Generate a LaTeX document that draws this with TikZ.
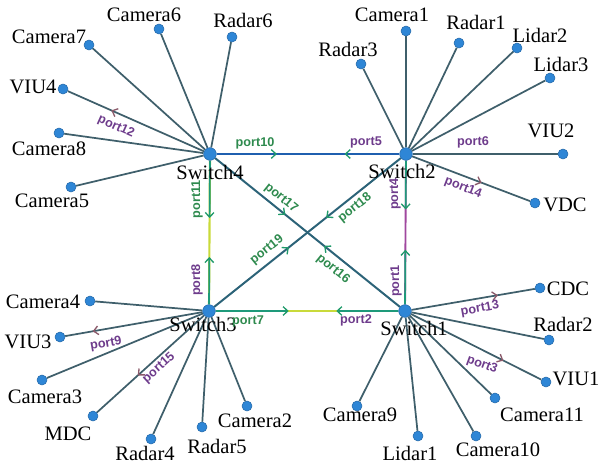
\documentclass[tikz,border=0pt]{standalone}
\usepackage{fontspec}
\setmainfont{Liberation Serif}
\newfontfamily\portfont{Liberation Sans}
\usetikzlibrary{arrows.meta,calc,decorations.markings}
\pgfdeclarelayer{bg}
\pgfsetlayers{bg,main}

\definecolor{dotblue}{HTML}{2E86D6}
\definecolor{dotedge}{HTML}{2468A8}
\definecolor{leafline}{HTML}{3F5F6B}
\definecolor{trunkblue}{HTML}{1F5FAF}
\definecolor{linklime}{HTML}{C9DA3A}
\definecolor{linkteal}{HTML}{1E9A7A}
\definecolor{linkmag}{HTML}{A0479E}
\definecolor{diagline}{HTML}{2C6378}
\definecolor{portpurple}{HTML}{6E3C8C}
\definecolor{portgreen}{HTML}{2E8A4E}
\definecolor{tipgreen}{HTML}{1F9A6A}
\definecolor{tipbrown}{HTML}{8B5A6A}

\tikzset{
  dev/.style={circle,fill=dotblue,draw=dotedge,line width=0.4pt,inner sep=0pt,minimum size=7.5pt},
  sw/.style={dev,minimum size=9.5pt},
  lbl/.style={font=\fontsize{15.4}{16}\selectfont,inner sep=0pt},
  plbl/.style={font=\portfont\bfseries\fontsize{9.5}{10}\selectfont,inner sep=0pt},
  pg/.style={plbl,text=portgreen},
  pp/.style={plbl,text=portpurple},
  leaf/.style={draw=leafline,line width=1.3pt},
  ovl/.style={draw=linkteal,line width=1.3pt},
  fwd/.style args={#1/#2}{postaction={decorate,decoration={markings,
      mark=at position #1 with {\arrow[#2,line width=1pt]{Straight Barb[length=3.5pt,width=6.5pt]}}}}},
  bwd/.style args={#1/#2}{postaction={decorate,decoration={markings,
      mark=at position #1 with {\arrowreversed[#2,line width=1pt]{Straight Barb[length=3.5pt,width=6.5pt]}}}}}
}

\begin{document}
\begin{tikzpicture}[x=0.75pt,y=-0.75pt]
\useasboundingbox (0,0) rectangle (600,468);

% switches
\node[sw] (S4) at (210,154) {};
\node[sw] (S2) at (406,154) {};
\node[sw] (S3) at (209,311) {};
\node[sw] (S1) at (405,311) {};
\node[lbl] (tS4) at (210,172) {Switch4};
\node[lbl] (tS2) at (402,171) {Switch2};
\node[lbl] (tS3) at (203,324) {Switch3};
\node[lbl] (tS1) at (414,328) {Switch1};

% devices on Switch4
\node[dev] (cam6) at (159,29) {};
\node[dev] (rad6) at (232,37) {};
\node[dev] (cam7) at (89,45) {};
\node[dev] (viu4) at (63,89) {};
\node[dev] (cam8) at (59,133) {};
\node[dev] (cam5) at (71,187) {};
% devices on Switch2
\node[dev] (cam1) at (406,31) {};
\node[dev] (rad1) at (459,43) {};
\node[dev] (lid2) at (517,48) {};
\node[dev] (lid3) at (550,78) {};
\node[dev] (rad3) at (361,64) {};
\node[dev] (viu2) at (563,154) {};
\node[dev] (vdc) at (535,203) {};
% devices on Switch3
\node[dev] (cam4) at (90,301) {};
\node[dev] (viu3) at (60,337) {};
\node[dev] (cam3) at (42,380) {};
\node[dev] (mdc) at (93,416) {};
\node[dev] (rad4) at (151,439) {};
\node[dev] (rad5) at (202,427) {};
\node[dev] (cam2) at (247,406) {};
% devices on Switch1
\node[dev] (cdc) at (540,288) {};
\node[dev] (rad2) at (549,340) {};
\node[dev] (viu1) at (546,382) {};
\node[dev] (cam11) at (495,398) {};
\node[dev] (cam10) at (476,436) {};
\node[dev] (lid1) at (418,436) {};
\node[dev] (cam9) at (357,406) {};

% device names
\node[lbl] (tcam6) at (144,15) {Camera6};
\node[lbl] (trad6) at (243,20) {Radar6};
\node[lbl] (tcam7) at (49,37) {Camera7};
\node[lbl] (tviu4) at (33,87) {VIU4};
\node[lbl] (tcam8) at (49,149) {Camera8};
\node[lbl] (tcam5) at (52,201) {Camera5};
\node[lbl] (tcam1) at (392,15) {Camera1};
\node[lbl] (trad1) at (476,22) {Radar1};
\node[lbl] (tlid2) at (540,35) {Lidar2};
\node[lbl] (tlid3) at (561,64) {Lidar3};
\node[lbl] (trad3) at (348,49) {Radar3};
\node[lbl] (tviu2) at (551,131) {VIU2};
\node[lbl] (tvdc) at (565,205) {VDC};
\node[lbl] (tcam4) at (43,302) {Camera4};
\node[lbl] (tviu3) at (28,342) {VIU3};
\node[lbl] (tcam3) at (45,397) {Camera3};
\node[lbl] (tmdc) at (68,434) {MDC};
\node[lbl] (trad4) at (145,453) {Radar4};
\node[lbl] (trad5) at (217,446) {Radar5};
\node[lbl] (tcam2) at (255,421) {Camera2};
\node[lbl] (tcdc) at (568,289) {CDC};
\node[lbl] (trad2) at (563,324) {Radar2};
\node[lbl] (tviu1) at (576,379) {VIU1};
\node[lbl] (tcam11) at (542,415) {Camera11};
\node[lbl] (tcam10) at (498,450) {Camera10};
\node[lbl] (tlid1) at (410,453) {Lidar1};
\node[lbl] (tcam9) at (360,415) {Camera9};

\begin{pgfonlayer}{bg}
% device links
\foreach \d in {cam6,rad6,cam7,cam8,cam5} \draw[leaf] (S4) -- (\d);
\draw[leaf,fwd=0.68/tipbrown] (S4) -- (viu4);
\foreach \d in {cam1,rad1,lid2,lid3,rad3} \draw[leaf] (S2) -- (\d);
\draw[leaf] (S2) -- (viu2);
\draw[leaf,fwd=0.59/tipbrown] (S2) -- (vdc);
\foreach \d in {cam4,cam3,rad4,rad5,cam2} \draw[leaf] (S3) -- (\d);
\draw[leaf,fwd=0.80/tipbrown] (S3) -- (viu3);
\draw[leaf,fwd=0.62/tipbrown] (S3) -- (mdc);
\foreach \d in {rad2,cam11,cam10,lid1,cam9} \draw[leaf] (S1) -- (\d);
\draw[leaf,fwd=0.70/tipbrown] (S1) -- (cdc);
\draw[leaf,fwd=0.71/tipbrown] (S1) -- (viu1);

% switch to switch links
\draw[trunkblue,line width=2pt,fwd=0.33/tipgreen,bwd=0.70/tipgreen] (S4) -- (S2);
\draw[linklime,line width=1.6pt] (S4) -- (S3);
\draw[ovl] (S4) -- ($(S4)!0.40!(S3)$);
\draw[ovl] (S3) -- ($(S3)!0.33!(S4)$);
\path[fwd=0.40/tipgreen,bwd=0.67/tipgreen] (S4) -- (S3);
\draw[linklime,line width=1.6pt] (S3) -- (S1);
\draw[ovl] (S3) -- ($(S3)!0.40!(S1)$);
\draw[ovl] (S1) -- ($(S1)!0.34!(S3)$);
\path[fwd=0.40/tipgreen,bwd=0.66/tipgreen] (S3) -- (S1);
\draw[linkmag,line width=1.4pt] (S2) -- (S1);
\draw[ovl] (S2) -- ($(S2)!0.34!(S1)$);
\draw[ovl] (S1) -- ($(S1)!0.38!(S2)$);
\path[fwd=0.34/tipgreen,bwd=0.62/tipgreen] (S2) -- (S1);
\draw[diagline,line width=1.5pt,fwd=0.38/tipgreen,bwd=0.59/tipgreen] (S4) -- (S1);
\draw[diagline,line width=1.5pt,fwd=0.40/tipgreen,bwd=0.60/tipgreen] (S2) -- (S3);
\end{pgfonlayer}

% port names
\node[pg] (p10) at (255,143) {port10};
\node[pp,rotate=-24] (p12) at (116,127) {port12};
\node[pg,rotate=-39] (p17) at (281,198) {port17};
\node[pg,rotate=90] (p11) at (197,199) {port11};
\node[pp] (p5) at (366,142) {port5};
\node[pp] (p6) at (473,142) {port6};
\node[pp,rotate=-21] (p14) at (463,188) {port14};
\node[pp,rotate=90] (p4) at (395,194) {port4};
\node[pg,rotate=39] (p18) at (355,208) {port18};
\node[pg,rotate=39] (p19) at (267,250) {port19};
\node[pg,rotate=-39] (p16) at (333,269) {port16};
\node[pp,rotate=90] (p8) at (197,280) {port8};
\node[pg] (p7) at (248,321) {port7};
\node[pp] (p2) at (356,320) {port2};
\node[pp,rotate=90] (p1) at (396,281) {port1};
\node[pp,rotate=10] (p9) at (106,344) {port9};
\node[pp,rotate=42] (p15) at (159,368) {port15};
\node[pp,rotate=10] (p13) at (480,309) {port13};
\node[pp,rotate=-20] (p3) at (482,365) {port3};
\end{tikzpicture}
\end{document}
